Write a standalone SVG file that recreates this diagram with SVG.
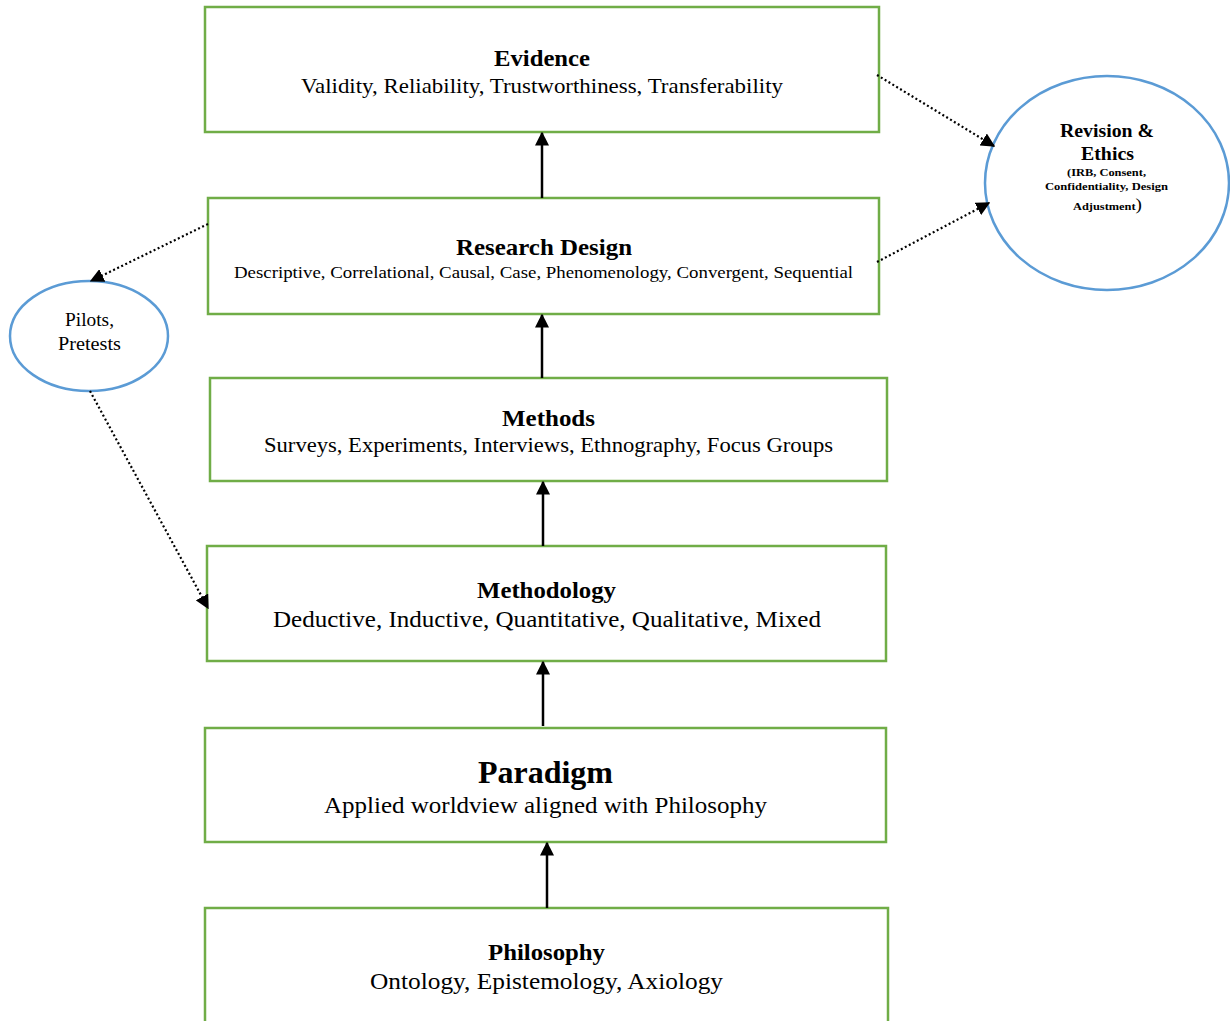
<svg xmlns="http://www.w3.org/2000/svg" width="1230" height="1021" viewBox="0 0 1230 1021">
<style>
.box{fill:#fff;stroke:#70AD47;stroke-width:2.5}
.ell{fill:#fff;stroke:#5B9BD5;stroke-width:2.5}
text{font-family:"Liberation Serif","Times New Roman",serif;fill:#000;text-anchor:middle}
.t{font-weight:bold;font-size:24px}
.s{font-size:21px}
.solid{stroke:#000;stroke-width:2.5;fill:none}
.dot{stroke:#000;stroke-width:2.2;fill:none;stroke-dasharray:2 2.5}
</style>
<defs>
<marker id="ah" viewBox="0 0 10 10" refX="9" refY="5" markerWidth="14" markerHeight="14" markerUnits="userSpaceOnUse" orient="auto">
<path d="M0,0 L10,5 L0,10 z" fill="#000"/>
</marker>
</defs>
<g id="evidence">
<rect class="box" x="205" y="7" width="674" height="125"/>
<text class="t" x="542" y="66" textLength="96" lengthAdjust="spacingAndGlyphs">Evidence</text>
<text class="s" x="542" y="93" textLength="482" lengthAdjust="spacingAndGlyphs">Validity, Reliability, Trustworthiness, Transferability</text>
</g>
<g id="research-design">
<rect class="box" x="208" y="198" width="671" height="116"/>
<text class="t" x="544" y="255" textLength="176" lengthAdjust="spacingAndGlyphs">Research Design</text>
<text class="s" x="543.5" y="278" style="font-size:17px" textLength="619" lengthAdjust="spacingAndGlyphs">Descriptive, Correlational, Causal, Case, Phenomenology, Convergent, Sequential</text>
</g>
<g id="methods">
<rect class="box" x="210" y="378" width="677" height="103"/>
<text class="t" x="548.5" y="426" textLength="93" lengthAdjust="spacingAndGlyphs">Methods</text>
<text class="s" x="548.5" y="452" textLength="569" lengthAdjust="spacingAndGlyphs">Surveys, Experiments, Interviews, Ethnography, Focus Groups</text>
</g>
<g id="methodology">
<rect class="box" x="207" y="546" width="679" height="115"/>
<text class="t" x="546.5" y="598" textLength="139" lengthAdjust="spacingAndGlyphs">Methodology</text>
<text class="s" x="547" y="627" style="font-size:23px" textLength="548" lengthAdjust="spacingAndGlyphs">Deductive, Inductive, Quantitative, Qualitative, Mixed</text>
</g>
<g id="paradigm">
<rect class="box" x="205" y="728" width="681" height="114"/>
<text class="t" x="545.5" y="783" style="font-size:32px" textLength="135" lengthAdjust="spacingAndGlyphs">Paradigm</text>
<text class="s" x="545.5" y="813" style="font-size:23px" textLength="443" lengthAdjust="spacingAndGlyphs">Applied worldview aligned with Philosophy</text>
</g>
<g id="philosophy">
<rect class="box" x="205" y="908" width="683" height="120"/>
<text class="t" x="546.5" y="960" textLength="117" lengthAdjust="spacingAndGlyphs">Philosophy</text>
<text class="s" x="546.5" y="989" style="font-size:23px" textLength="353" lengthAdjust="spacingAndGlyphs">Ontology, Epistemology, Axiology</text>
</g>
<g id="revision-ethics">
<ellipse class="ell" cx="1107" cy="183" rx="122" ry="107"/>
<text x="1107" y="137" style="font-weight:bold;font-size:18px" textLength="94" lengthAdjust="spacingAndGlyphs">Revision &amp;</text>
<text x="1107.5" y="160" style="font-weight:bold;font-size:18px" textLength="53" lengthAdjust="spacingAndGlyphs">Ethics</text>
<text x="1106.5" y="176" style="font-weight:bold;font-size:11px" textLength="79" lengthAdjust="spacingAndGlyphs">(IRB, Consent,</text>
<text x="1106.5" y="190" style="font-weight:bold;font-size:11px" textLength="123" lengthAdjust="spacingAndGlyphs">Confidentiality, Design</text>
<text x="1107.5" y="210" style="font-weight:bold;font-size:11px" textLength="69" lengthAdjust="spacingAndGlyphs">Adjustment<tspan style="font-size:17px;font-weight:normal">)</tspan></text>
</g>
<g id="pilots">
<ellipse class="ell" cx="89" cy="336" rx="79" ry="55"/>
<text x="89.5" y="326" style="font-size:18px" textLength="49" lengthAdjust="spacingAndGlyphs">Pilots,</text>
<text x="89.5" y="350" style="font-size:18px" textLength="63" lengthAdjust="spacingAndGlyphs">Pretests</text>
</g>
<g id="connectors">
<line class="solid" x1="542" y1="198" x2="542" y2="133" marker-end="url(#ah)"/>
<line class="solid" x1="542" y1="378" x2="542" y2="315" marker-end="url(#ah)"/>
<line class="solid" x1="543" y1="546" x2="543" y2="482" marker-end="url(#ah)"/>
<line class="solid" x1="543" y1="726" x2="543" y2="662" marker-end="url(#ah)"/>
<line class="solid" x1="547" y1="908" x2="547" y2="843" marker-end="url(#ah)"/>
<line class="dot" x1="877" y1="75" x2="994" y2="146" marker-end="url(#ah)"/>
<line class="dot" x1="877" y1="262" x2="989" y2="203" marker-end="url(#ah)"/>
<line class="dot" x1="208" y1="224" x2="91" y2="281" marker-end="url(#ah)"/>
<line class="dot" x1="90" y1="391" x2="208" y2="608" marker-end="url(#ah)"/>
</g>
</svg>
